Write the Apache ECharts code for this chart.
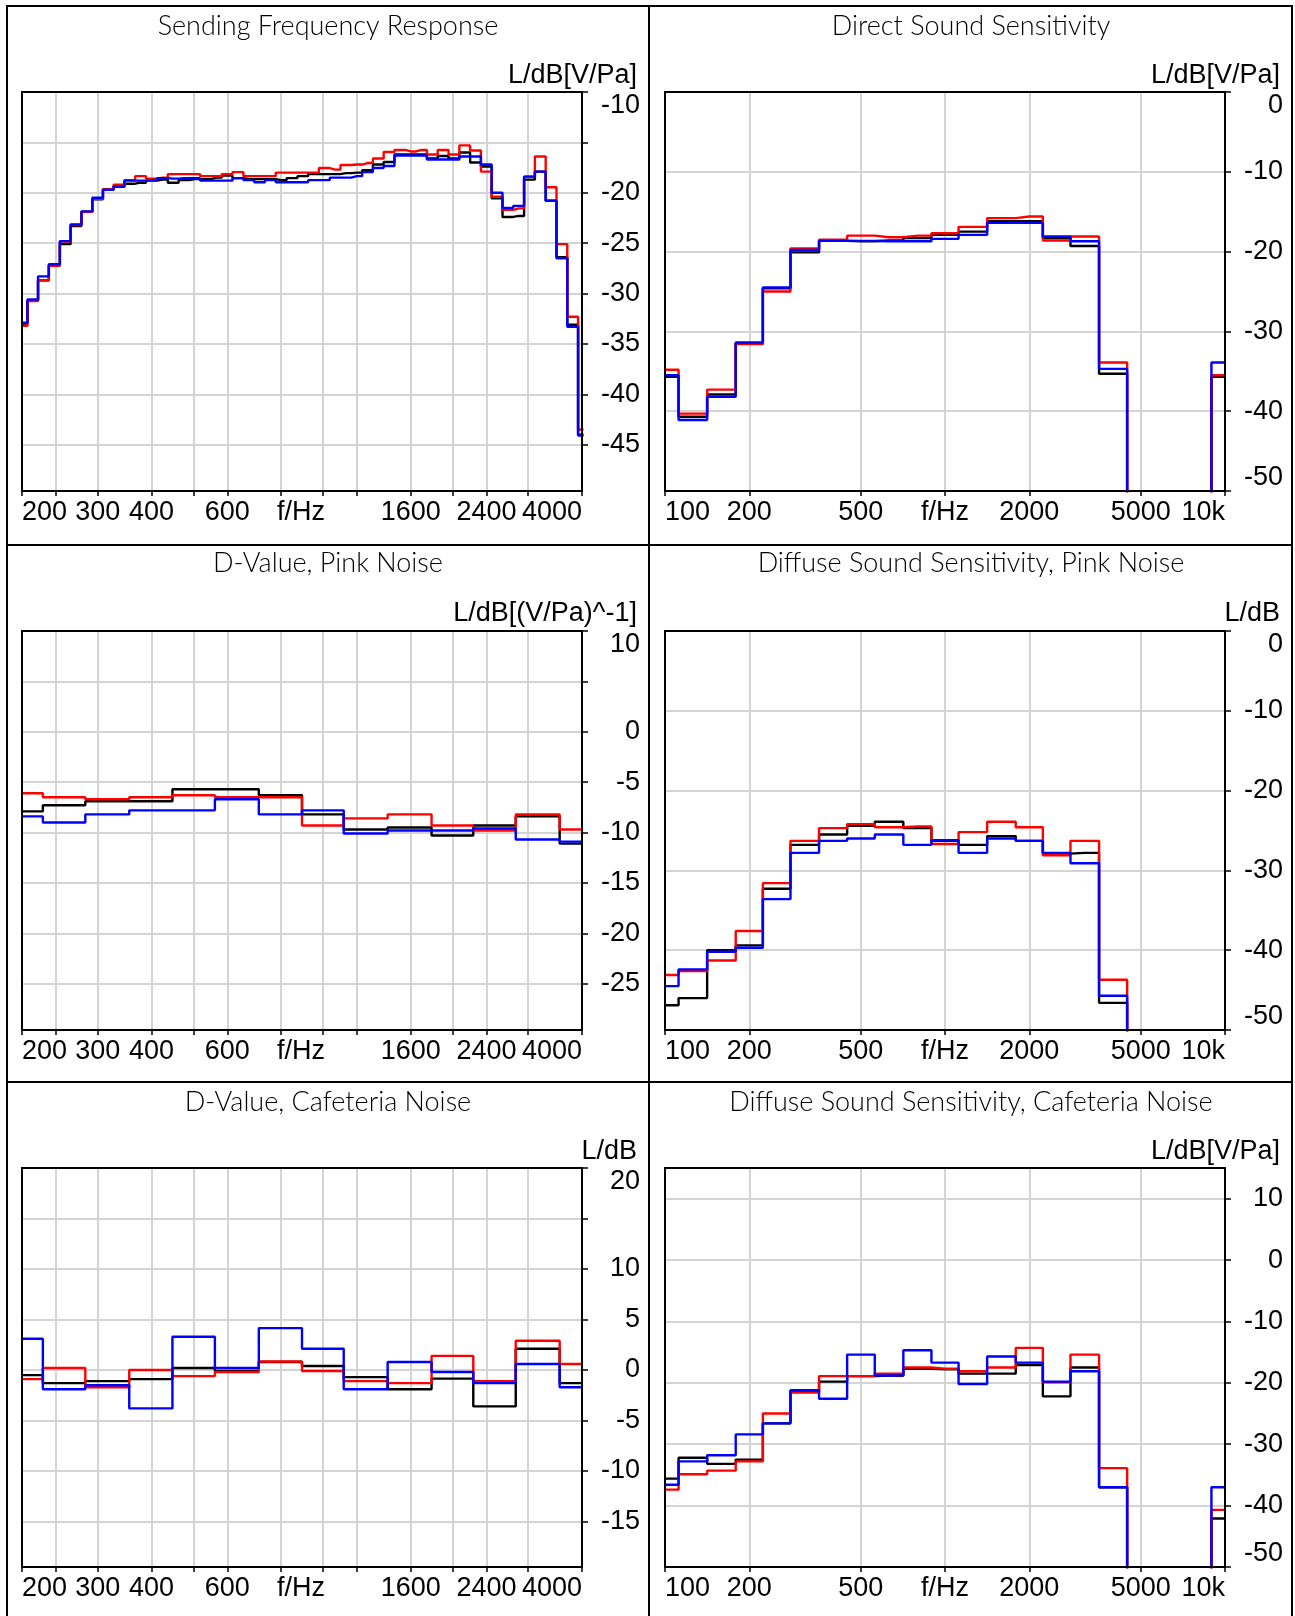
<!DOCTYPE html>
<html>
<head>
<meta charset="utf-8">
<script src="https://cdn.jsdelivr.net/npm/echarts@6/dist/echarts.min.js"></script>
<style>
html, body { margin: 0; padding: 0; background: #fff; }
#chart { width: 1295px; height: 1616px; }
</style>
</head>
<body>
<div id="chart"></div>
<script>
// band centre frequencies (Hz)
var bands12 = [200,212,224,238,252,267,283,300,317,336,356,377,400,424,449,476,504,534,566,599,
	635,673,713,755,800,848,898,951,1008,1068,1131,1199,1270,1345,1425,1510,1600,1695,1796,1903,
	2016,2136,2263,2397,2540,2691,2851,3020,3200,3390,3592,3805,4032];
var bandsThirdNarrow = [200,250,315,400,500,630,800,1000,1250,1600,2000,2500,3150,4000];
var bandsThirdWide = [100,125,160,200,250,315,400,500,630,800,1000,1250,1600,2000,2500,3150,4000,5000,6300,8000,10000];

// Sending Frequency Response, 1/12 octave
var sendBlack = [-33.0,-30.7,-28.7,-27.2,-25.1,-23.3,-21.9,-20.65,-19.7,-19.4,
	-19.1,-19.0,-18.8,-18.7,-19.0,-18.75,-18.65,-18.65,-18.5,-18.3,
	-18.55,-18.65,-18.65,-18.65,-18.75,-18.55,-18.35,-18.15,-18.15,-18.15,
	-18.05,-18.0,-17.75,-17.2,-16.95,-16.2,-16.2,-16.2,-16.6,-16.35,
	-16.6,-16.0,-17.0,-17.4,-20.55,-22.4,-22.3,-18.7,-17.9,-20.8,
	-26.4,-33.1,-44.0];
var sendRed = [-33.2,-30.75,-28.7,-27.25,-24.85,-23.2,-21.9,-20.6,-19.65,-19.2,
	-18.75,-18.35,-18.6,-18.5,-18.15,-18.15,-18.15,-18.35,-18.35,-18.15,
	-17.95,-18.35,-18.35,-18.35,-18.0,-18.0,-18.0,-18.0,-17.55,-17.7,
	-17.25,-17.2,-17.05,-16.6,-15.95,-15.75,-15.9,-15.75,-16.2,-15.75,
	-16.2,-15.3,-15.8,-17.9,-20.4,-21.7,-21.55,-18.4,-16.4,-19.45,
	-25.1,-32.3,-43.5];
var sendBlue = [-32.9,-30.6,-28.3,-27.1,-24.8,-23.15,-21.85,-20.5,-19.7,-19.4,
	-18.8,-18.8,-18.75,-18.55,-18.6,-18.55,-18.55,-18.8,-18.8,-18.8,
	-18.55,-18.75,-18.95,-18.75,-18.95,-18.95,-18.95,-18.75,-18.75,-18.5,
	-18.5,-18.35,-17.95,-17.55,-17.35,-16.3,-16.3,-16.3,-16.7,-16.7,
	-16.7,-16.4,-16.4,-17.2,-20.0,-21.5,-21.3,-18.4,-17.9,-20.8,
	-26.5,-33.3,-44.1];

// Direct Sound Sensitivity (-80 = below the plotted range)
var directBlack = [-35.7,-40.7,-37.9,-31.5,-24.6,-20.1,-18.65,-18.7,-18.6,-18.3,-17.9,-17.5,-16.2,-16.2,-18.3,-19.3,-35.3,-80,-80,-80,-35.7];
var directRed = [-34.8,-40.3,-37.3,-31.6,-25.0,-19.6,-18.5,-18.0,-18.2,-18.0,-17.7,-16.9,-15.8,-15.6,-18.6,-18.1,-33.9,-80,-80,-80,-35.5];
var directBlue = [-35.5,-41.1,-38.2,-31.4,-24.5,-19.8,-18.65,-18.65,-18.7,-18.7,-18.4,-17.9,-16.4,-16.4,-18.1,-18.7,-34.7,-80,-80,-80,-33.9];

// D-Value, Pink Noise
var dPinkBlack = [-7.9,-7.3,-6.9,-6.9,-5.7,-5.7,-6.3,-8.2,-9.7,-9.5,-10.3,-9.3,-8.4,-11.1];
var dPinkRed = [-6.1,-6.5,-6.7,-6.5,-6.3,-6.5,-6.5,-9.3,-8.6,-8.2,-9.3,-9.8,-8.2,-9.7];
var dPinkBlue = [-8.4,-9.0,-8.2,-7.8,-7.8,-6.7,-8.2,-7.8,-10.1,-9.8,-9.8,-9.6,-10.7,-10.9];

// Diffuse Sound Sensitivity, Pink Noise
var diffPinkBlack = [-46.9,-46.0,-40.0,-39.4,-32.3,-26.8,-25.5,-24.4,-23.9,-24.7,-26.3,-26.8,-25.7,-26.3,-27.9,-27.8,-46.6,-80,-80,-80,-80];
var diffPinkRed = [-43.1,-42.6,-41.3,-37.6,-31.6,-26.3,-24.7,-24.2,-24.6,-24.5,-26.7,-25.2,-23.9,-24.6,-28.1,-26.3,-43.7,-80,-80,-80,-80];
var diffPinkBlue = [-44.5,-42.4,-40.2,-39.7,-33.6,-27.8,-26.3,-26.0,-25.5,-26.8,-26.2,-27.8,-26.0,-26.3,-27.8,-29.1,-45.7,-80,-80,-80,-80];

// D-Value, Cafeteria Noise
var dCafBlack = [-0.5,-1.3,-1.1,-0.9,0.2,-0.1,0.8,0.4,-0.7,-1.9,-0.85,-3.6,2.1,-1.3];
var dCafRed = [-0.9,0.2,-1.7,0.0,-0.6,-0.2,0.85,-0.1,-1.1,-1.3,1.4,-1.1,2.9,0.6];
var dCafBlue = [3.1,-1.9,-1.5,-3.8,3.3,0.2,4.15,2.1,-1.9,0.8,-0.2,-1.3,0.6,-1.7];

// Diffuse Sound Sensitivity, Cafeteria Noise
var diffCafBlack = [-35.6,-32.2,-33.2,-32.5,-26.6,-21.3,-19.8,-18.9,-18.8,-17.7,-17.8,-18.5,-18.5,-17.1,-22.2,-17.5,-37.0,-80,-80,-80,-42.1];
var diffCafRed = [-37.4,-34.9,-34.3,-32.8,-25.0,-21.6,-18.9,-18.9,-18.5,-17.5,-17.7,-18.1,-17.5,-14.3,-19.9,-15.4,-33.9,-80,-80,-80,-40.7];
var diffCafBlue = [-36.6,-32.8,-31.8,-28.4,-26.6,-21.2,-22.6,-15.4,-18.8,-14.7,-16.7,-20.2,-15.7,-16.7,-19.8,-18.1,-37.0,-80,-80,-80,-37.0];

// axis ticks and labels
var xTicksNarrow = [200,240,300,400,500,600,800,1000,1200,1600,2000,2400,3000,4000];
var xLabelsNarrow = [200,300,400,600,890,1600,2400,4000];
var xTicksWide = [100,200,500,1000,2000,5000,10000];
var xLabelsWide = [100,200,500,1000,2000,5000,10000];
var xLabelText = {890: 'f/Hz', 1000: 'f/Hz', 10000: '10k'};

var yTicksSend = [-45,-40,-35,-30,-25,-20,-15,-10];
var yLabelsSend = [-45,-40,-35,-30,-25,-20,-10];
var yTicksDirect = [-50,-40,-30,-20,-10,0];
var yTicksDPink = [-25,-20,-15,-10,-5,0,5,10];
var yLabelsDPink = [-25,-20,-15,-10,-5,0,10];
var yTicksDCaf = [-15,-10,-5,0,5,10,15,20];
var yLabelsDCaf = [-15,-10,-5,0,5,10,20];
var yTicksDiffCaf = [-50,-40,-30,-20,-10,0,10];

var lineColors = ['#000000', '#ff0000', '#0000ff'];
var gridColor = '#d4d4d4';
var labelFont = "'Liberation Sans', Arial, sans-serif";

var panels = [
	{title: 'Sending Frequency Response', unit: 'L/dB[V/Pa]', col: 0, row: 0, freqs: bands12,
	 vals: [sendBlack, sendRed, sendBlue], wide: false, yMin: -49.6, yMax: -10,
	 yTicks: yTicksSend, yLabels: yLabelsSend, minAlign: null, maxAlign: 'top'},
	{title: 'Direct Sound Sensitivity', unit: 'L/dB[V/Pa]', col: 1, row: 0, freqs: bandsThirdWide,
	 vals: [directBlack, directRed, directBlue], wide: true, yMin: -50, yMax: 0,
	 yTicks: yTicksDirect, yLabels: yTicksDirect, minAlign: 'bottom', maxAlign: 'top'},
	{title: 'D-Value, Pink Noise', unit: 'L/dB[(V/Pa)^-1]', col: 0, row: 1, freqs: bandsThirdNarrow,
	 vals: [dPinkBlack, dPinkRed, dPinkBlue], wide: false, yMin: -29.6, yMax: 10,
	 yTicks: yTicksDPink, yLabels: yLabelsDPink, minAlign: null, maxAlign: 'top'},
	{title: 'Diffuse Sound Sensitivity, Pink Noise', unit: 'L/dB', col: 1, row: 1, freqs: bandsThirdWide,
	 vals: [diffPinkBlack, diffPinkRed, diffPinkBlue], wide: true, yMin: -50, yMax: 0,
	 yTicks: yTicksDirect, yLabels: yTicksDirect, minAlign: 'bottom', maxAlign: 'top'},
	{title: 'D-Value, Cafeteria Noise', unit: 'L/dB', col: 0, row: 2, freqs: bandsThirdNarrow,
	 vals: [dCafBlack, dCafRed, dCafBlue], wide: false, yMin: -19.5, yMax: 20,
	 yTicks: yTicksDCaf, yLabels: yLabelsDCaf, minAlign: null, maxAlign: 'top'},
	{title: 'Diffuse Sound Sensitivity, Cafeteria Noise', unit: 'L/dB[V/Pa]', col: 1, row: 2, freqs: bandsThirdWide,
	 vals: [diffCafBlack, diffCafRed, diffCafBlue], wide: true, yMin: -50, yMax: 15,
	 yTicks: yTicksDiffCaf, yLabels: yTicksDiffCaf, minAlign: 'bottom', maxAlign: null}
];

// page layout
var plotLeft = [22, 665];
var plotTop = [92, 631, 1168];
var plotW = 560, plotH = 399;
var titleX = [328, 971];
var titleY = [26, 563, 1102];
var unitX = [637, 1280];
var unitY = [76, 614, 1152];

var grids = [], xAxes = [], yAxes = [], series = [], titles = [], frames = [];

panels.forEach(function(p, i){
	grids.push({
		left: plotLeft[p.col], top: plotTop[p.row], width: plotW, height: plotH,
		show: false, containLabel: false, outerBoundsMode: 'none'
	});
	xAxes.push({
		gridIndex: i, type: 'log', logBase: 10,
		min: p.wide ? 100 : 200, max: p.wide ? 10000 : 4000,
		position: 'bottom',
		axisLine: {show: false, onZero: false},
		axisTick: {show: true, length: 5, customValues: p.wide ? xTicksWide : xTicksNarrow,
			lineStyle: {color: '#000', width: 1.5}},
		axisLabel: {
			customValues: p.wide ? xLabelsWide : xLabelsNarrow,
			formatter: function(v){ var k = Math.round(v); return xLabelText[k] || String(k); },
			fontFamily: labelFont, fontSize: 27, color: '#000', margin: 8,
			alignMinLabel: 'left', alignMaxLabel: 'right'
		},
		splitLine: {show: true, lineStyle: {color: gridColor, width: 2}},
		minorTick: {show: false}, minorSplitLine: {show: false}
	});
	var yLabel = {
		customValues: p.yLabels, align: 'right', margin: 58,
		fontFamily: labelFont, fontSize: 27, color: '#000'
	};
	if (p.minAlign) yLabel.verticalAlignMinLabel = p.minAlign;
	if (p.maxAlign) yLabel.verticalAlignMaxLabel = p.maxAlign;
	yAxes.push({
		gridIndex: i, type: 'value', position: 'right',
		min: p.yMin, max: p.yMax,
		axisLine: {show: false, onZero: false},
		axisTick: {show: true, length: 6, customValues: p.yTicks, lineStyle: {color: '#000', width: 1.5}},
		axisLabel: yLabel,
		splitLine: {show: true, lineStyle: {color: gridColor, width: 2}}
	});
	p.vals.forEach(function(vals, s){
		series.push({
			type: 'line', xAxisIndex: i, yAxisIndex: i,
			step: 'middle', showSymbol: false, symbol: 'none', clip: true,
			lineStyle: {color: lineColors[s], width: 2.4},
			itemStyle: {color: lineColors[s]},
			data: p.freqs.map(function(f, k){ return [f, vals[k]]; })
		});
	});
	titles.push({
		text: p.title, left: titleX[p.col], top: titleY[p.row] - 15, textAlign: 'center', padding: 0,
		textStyle: {fontFamily: 'Lato', fontWeight: 300, fontSize: 27, lineHeight: 30, color: '#000'}
	});
	titles.push({
		text: p.unit, left: unitX[p.col], top: unitY[p.row] - 15, textAlign: 'right', padding: 0,
		textStyle: {fontFamily: labelFont, fontWeight: 'normal', fontSize: 27, lineHeight: 30, color: '#000'}
	});
	frames.push({
		type: 'rect', z: 100, silent: true,
		shape: {x: plotLeft[p.col], y: plotTop[p.row], width: plotW, height: plotH},
		style: {fill: null, stroke: '#000', lineWidth: 2}
	});
});

// outer border and panel dividers
frames.push({type: 'rect', z: 100, silent: true, shape: {x: 7, y: 6, width: 1285, height: 1620},
	style: {fill: null, stroke: '#000', lineWidth: 2}});
frames.push({type: 'line', z: 100, silent: true, shape: {x1: 649, y1: 6, x2: 649, y2: 1616},
	style: {stroke: '#000', lineWidth: 2}});
frames.push({type: 'line', z: 100, silent: true, shape: {x1: 7, y1: 545, x2: 1292, y2: 545},
	style: {stroke: '#000', lineWidth: 2}});
frames.push({type: 'line', z: 100, silent: true, shape: {x1: 7, y1: 1082, x2: 1292, y2: 1082},
	style: {stroke: '#000', lineWidth: 2}});

var myChart = echarts.init(document.getElementById('chart'), null, {renderer: 'canvas'});
myChart.setOption({
	animation: false,
	backgroundColor: '#fff',
	title: titles,
	grid: grids,
	xAxis: xAxes,
	yAxis: yAxes,
	series: series,
	graphic: frames
});
</script>
</body>
</html>
